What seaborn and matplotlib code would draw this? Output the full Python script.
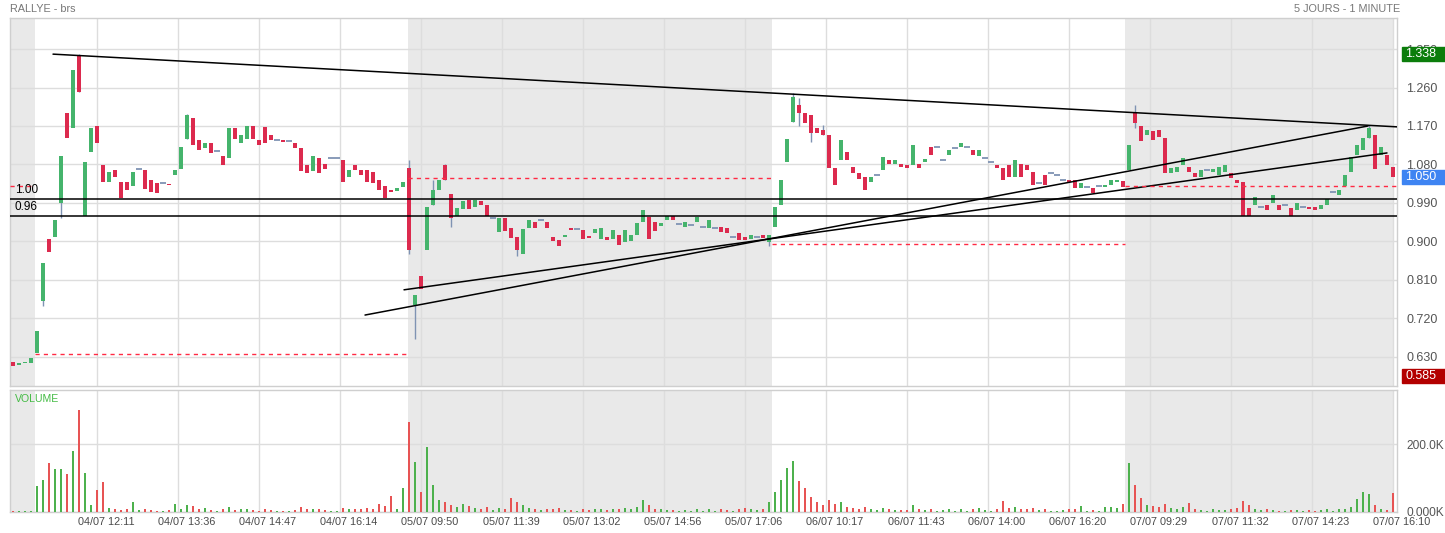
import numpy as np
import pandas as pd
import matplotlib
matplotlib.use("Agg")
import matplotlib.pyplot as plt
import matplotlib.transforms as mtransforms
from matplotlib.patches import Rectangle
import seaborn as sns

# one candle per slot, 5 sessions (pre-open, 04/07 .. 07/07)
opens = [
    0.618, 0.612, 0.615, 0.617, 0.640, 0.760, 0.905, 0.910, 0.990, 1.200,
    1.165, 1.336, 0.960, 1.110, 1.170, 1.079, 1.040, 1.067, 1.039, 1.039,
    1.030, 1.070, 1.067, 1.044, 1.037, 1.037, 1.035, 1.055, 1.070, 1.140,
    1.189, 1.137, 1.118, 1.130, 1.112, 1.100, 1.095, 1.165, 1.130, 1.140,
    1.170, 1.137, 1.168, 1.149, 1.137, 1.138, 1.135, 1.130, 1.118, 1.079,
    1.065, 1.095, 1.080, 1.095, 1.095, 1.090, 1.050, 1.079, 1.067, 1.067,
    1.062, 1.044, 1.030, 1.020, 1.018, 1.027, 1.072, 0.752, 0.820, 0.880,
    0.985, 1.020, 1.079, 1.010, 0.960, 0.975, 0.997, 0.980, 0.995, 0.985,
    0.955, 0.922, 0.955, 0.932, 0.911, 0.870, 0.932, 0.945, 0.950, 0.945,
    0.910, 0.903, 0.910, 0.932, 0.930, 0.927, 0.912, 0.920, 0.905, 0.910,
    0.906, 0.915, 0.898, 0.900, 0.915, 0.945, 0.957, 0.945, 0.937, 0.950,
    0.960, 0.942, 0.935, 0.939, 0.945, 0.934, 0.932, 0.932, 0.934, 0.932,
    0.911, 0.919, 0.911, 0.905, 0.910, 0.915, 0.899, 0.934, 0.985, 1.086,
    1.179, 1.220, 1.200, 1.196, 1.165, 1.160, 1.149, 1.072, 1.090, 1.110,
    1.074, 1.060, 1.050, 1.040, 1.055, 1.067, 1.090, 1.082, 1.080, 1.079,
    1.079, 1.080, 1.085, 1.120, 1.120, 1.090, 1.102, 1.118, 1.120, 1.120,
    1.114, 1.100, 1.095, 1.085, 1.079, 1.072, 1.079, 1.051, 1.080, 1.079,
    1.062, 1.037, 1.055, 1.060, 1.055, 1.044, 1.044, 1.044, 1.025, 1.027,
    1.025, 1.030, 1.028, 1.032, 1.039, 1.041, 1.067, 1.200, 1.170, 1.150,
    1.158, 1.160, 1.142, 1.060, 1.062, 1.079, 1.074, 1.060, 1.051, 1.067,
    1.062, 1.055, 1.062, 1.060, 1.044, 1.039, 0.978, 0.985, 0.980, 0.985,
    0.990, 0.985, 0.985, 0.978, 0.974, 0.980, 0.980, 0.980, 0.976, 0.985,
    1.015, 1.009, 1.030, 1.062, 1.102, 1.115, 1.142, 1.150, 1.102, 1.102,
    1.074,
]
closes = [
    0.608, 0.615, 0.617, 0.628, 0.690, 0.850, 0.875, 0.950, 1.100, 1.142,
    1.300, 1.250, 1.085, 1.165, 1.130, 1.040, 1.062, 1.051, 1.001, 1.020,
    1.062, 1.070, 1.022, 1.016, 1.013, 1.037, 1.031, 1.067, 1.120, 1.195,
    1.125, 1.114, 1.130, 1.107, 1.112, 1.079, 1.165, 1.140, 1.150, 1.170,
    1.140, 1.126, 1.130, 1.137, 1.137, 1.133, 1.135, 1.118, 1.065, 1.060,
    1.100, 1.060, 1.070, 1.095, 1.095, 1.039, 1.067, 1.067, 1.055, 1.040,
    1.037, 1.020, 1.001, 1.015, 1.025, 1.040, 0.880, 0.775, 0.790, 0.980,
    1.020, 1.044, 1.044, 0.955, 0.978, 0.995, 0.975, 0.997, 0.985, 0.960,
    0.955, 0.955, 0.925, 0.908, 0.880, 0.930, 0.950, 0.932, 0.950, 0.932,
    0.900, 0.890, 0.915, 0.927, 0.930, 0.905, 0.908, 0.930, 0.932, 0.903,
    0.927, 0.892, 0.927, 0.915, 0.943, 0.974, 0.905, 0.925, 0.943, 0.960,
    0.950, 0.942, 0.945, 0.939, 0.957, 0.934, 0.950, 0.932, 0.922, 0.920,
    0.911, 0.903, 0.903, 0.915, 0.910, 0.908, 0.915, 0.980, 1.044, 1.140,
    1.237, 1.200, 1.177, 1.153, 1.153, 1.150, 1.072, 1.032, 1.137, 1.090,
    1.060, 1.045, 1.020, 1.051, 1.055, 1.097, 1.080, 1.090, 1.075, 1.072,
    1.125, 1.072, 1.092, 1.102, 1.120, 1.090, 1.114, 1.118, 1.130, 1.120,
    1.102, 1.114, 1.095, 1.085, 1.072, 1.044, 1.051, 1.090, 1.051, 1.067,
    1.032, 1.037, 1.032, 1.060, 1.055, 1.044, 1.039, 1.025, 1.037, 1.027,
    1.013, 1.030, 1.032, 1.044, 1.044, 1.027, 1.125, 1.177, 1.135, 1.160,
    1.137, 1.145, 1.060, 1.072, 1.074, 1.095, 1.062, 1.051, 1.067, 1.067,
    1.070, 1.074, 1.079, 1.048, 1.037, 0.960, 0.960, 1.004, 0.980, 0.974,
    1.009, 0.974, 0.985, 0.960, 0.990, 0.980, 0.976, 0.974, 0.985, 1.000,
    1.015, 1.020, 1.055, 1.097, 1.125, 1.142, 1.165, 1.070, 1.120, 1.079,
    1.051,
]
# volume in thousands
volumes = [
    3, 2, 3, 4, 76, 94, 144, 126, 126, 111,
    179, 300, 115, 20, 65, 88, 12, 8, 6, 10,
    29, 5, 8, 6, 4, 3, 5, 24, 10, 20,
    18, 8, 12, 6, 4, 10, 16, 6, 8, 10,
    6, 4, 8, 6, 3, 4, 3, 6, 14, 8,
    10, 8, 6, 3, 3, 12, 10, 8, 10, 12,
    8, 24, 18, 47, 8, 70, 265, 147, 60, 191,
    79, 35, 28, 22, 15, 25, 18, 12, 10, 14,
    6, 12, 10, 40, 30, 20, 12, 8, 5, 10,
    8, 12, 6, 5, 4, 10, 6, 8, 10, 6,
    8, 10, 12, 8, 14, 35, 20, 10, 8, 6,
    5, 4, 6, 3, 8, 4, 10, 3, 8, 6,
    4, 10, 12, 8, 6, 10, 30, 60, 95, 130,
    150, 90, 70, 45, 30, 20, 35, 25, 30, 15,
    12, 10, 14, 8, 5, 12, 8, 6, 5, 6,
    20, 8, 6, 10, 4, 5, 8, 4, 10, 4,
    8, 12, 5, 4, 8, 32, 12, 14, 10, 8,
    12, 5, 8, 4, 4, 6, 8, 10, 18, 4,
    6, 4, 14, 16, 12, 23, 144, 79, 40, 20,
    18, 15, 25, 12, 10, 14, 26, 10, 6, 4,
    8, 6, 5, 10, 12, 32, 20, 10, 5, 8,
    6, 4, 3, 6, 5, 3, 6, 4, 5, 10,
    4, 8, 10, 14, 38, 59, 53, 20, 10, 6,
    56,
]
# (candle, low, high) for the visible shadows
wicks = [(5, 0.750, 0.850), (8, 0.955, 1.100), (11, 1.250, 1.338),
         (29, 1.140, 1.198), (66, 0.870, 1.090), (67, 0.672, 0.775),
         (70, 0.985, 1.044), (72, 1.044, 1.082), (73, 0.935, 1.010),
         (84, 0.866, 0.911), (126, 0.890, 0.915), (130, 1.179, 1.247),
         (131, 1.170, 1.235), (133, 1.132, 1.196), (135, 1.150, 1.172),
         (187, 1.165, 1.219), (226, 1.142, 1.172)]

time_labels = ["04/07 12:11", "04/07 13:36", "04/07 14:47", "04/07 16:14",
               "05/07 09:50", "05/07 11:39", "05/07 13:02", "05/07 14:56",
               "05/07 17:06", "06/07 10:17", "06/07 11:43", "06/07 14:00",
               "06/07 16:20", "07/07 09:29", "07/07 11:32", "07/07 14:23",
               "07/07 16:10"]
price_ticks = [0.630, 0.720, 0.810, 0.900, 0.990, 1.080, 1.170, 1.260, 1.350]

# drawn levels
support_levels = [1.00, 0.96]
prev_close_lines = [(-0.5, 3.67, 1.030), (3.67, 65.5, 0.637), (65.8, 126.5, 1.048),
                    (126.5, 185.3, 0.894), (185.3, 230.67, 1.030)]
trend_lines = [((6.67, 1.338), (230.67, 1.168)),
               ((58.67, 0.728), (225.83, 1.170)),
               ((65.17, 0.787), (229.0, 1.107))]
shaded = [(-0.5, 3.67), (65.8, 126.5), (185.3, 230.0)]
grid_x = [14 + 13.5 * k for k in range(17)]

GREEN = "#45b46c"
RED = "#dc2a4e"
GREY = "#7f93b3"

sns.set_style("white")
plt.rcParams["font.family"] = ["Liberation Sans", "DejaVu Sans"]

fig = plt.figure(figsize=(14.45, 5.33), dpi=100)
W, H = 1445, 533
ax = fig.add_axes([10 / W, (H - 386) / H, 1387 / W, 368 / H])
axv = fig.add_axes([10 / W, (H - 512) / H, 1387 / W, 122 / H])

idx = np.arange(len(closes))
o = np.array(opens)
c = np.array(closes)

for a in (ax, axv):
    for s0, s1 in shaded:
        a.axvspan(s0, s1, color="#e9e9e9", lw=0, zorder=0)
    for sp in a.spines.values():
        sp.set_color("#cfcfcf")
        sp.set_linewidth(1)

# ---- price panel ----
up = c > o
down = c < o
flat = c == o
lo = np.minimum(o, c)
h = np.maximum(np.abs(c - o), 0.003)
ax.bar(idx[up], h[up], bottom=lo[up], width=0.55, color=GREEN, lw=0, zorder=3)
ax.bar(idx[down], h[down], bottom=lo[down], width=0.55, color=RED, lw=0, zorder=3)
ax.hlines(c[flat], idx[flat] - 0.45, idx[flat] + 0.45, color=GREY, lw=1.3, zorder=3)
for i, wl, wh in wicks:
    ax.vlines(i, wl, wh, color=GREY, lw=1, zorder=2)

for (x0, y0), (x1, y1) in trend_lines:
    ax.plot([x0, x1], [y0, y1], color="black", lw=1.1, zorder=4)
for lv in support_levels:
    ax.axhline(lv, color="black", lw=1.1, zorder=4)
    ax.text(0.3, lv + 0.006, f"{lv:.2f}", fontsize=8.5, color="black", va="bottom", zorder=5)
for x0, x1, v in prev_close_lines:
    ax.hlines(v, x0, x1, colors="#ff2a44", linestyles=(0, (3, 3)), lw=1, zorder=4)

ax.set_xlim(-0.5, 230.67)
ax.set_ylim(0.5621, 1.4225)
ax.set_xticks(grid_x)
ax.set_xticklabels([])
ax.set_yticks(price_ticks)
ax.set_yticklabels([f"{v:.3f}" for v in price_ticks])
ax.yaxis.tick_right()
ax.tick_params(axis="both", length=0)
ax.tick_params(axis="y", pad=6.5, labelsize=9, labelcolor="#555555")
ax.grid(True, color="#dddddd", lw=1)
ax.set_axisbelow(True)

trans = mtransforms.blended_transform_factory(ax.transAxes, ax.transData)
bh = 14 * 0.002338
for val, col in [(1.338, "#0b7d0b"), (1.050, "#3e84f2"), (0.585, "#b30000")]:
    ax.add_patch(Rectangle((1 + 5 / 1387, val - bh / 2), 43 / 1387, bh, transform=trans,
                           color=col, clip_on=False, zorder=6))
    ax.text(1 + 8 / 1387, val, f"{val:.3f}", transform=trans, color="white",
            fontsize=9, va="center", ha="left", zorder=7, clip_on=False)

# ---- volume panel ----
vol_df = pd.DataFrame({"idx": idx, "vol": volumes,
                       "dir": np.where(c >= o, "up", "down")})
sns.barplot(data=vol_df, x="idx", y="vol", hue="dir",
            palette={"up": "#3cc23c", "down": "#ff3b3b"}, native_scale=True,
            dodge=False, width=0.3, errorbar=None, legend=False, linewidth=0,
            ax=axv, zorder=3)
axv.set_xlim(-0.5, 230.67)
axv.set_ylim(0, 359)
axv.set_xlabel("")
axv.set_ylabel("")
axv.set_xticks(grid_x)
axv.set_xticklabels([])
axv.set_yticks([0, 200])
axv.set_yticklabels(["0.000K", "200.0K"])
axv.yaxis.tick_right()
axv.tick_params(axis="both", length=0)
axv.tick_params(axis="y", pad=6.5, labelsize=8.6, labelcolor="#555555")
axv.grid(True, color="#dddddd", lw=1)
axv.set_axisbelow(True)
axv.text(5 / 1387, 0.926, "VOLUME", transform=axv.transAxes, color="#44bb44",
         fontsize=7.6, va="center", ha="left")

ltrans = mtransforms.blended_transform_factory(axv.transData, fig.transFigure)
for gx, lab in zip(grid_x, time_labels):
    axv.text(gx + 1.5, (H - 522) / H, lab, transform=ltrans, ha="center", va="center",
             fontsize=7.8, color="#4a4a4a", clip_on=False)

fig.text(10 / W, 1 - 9 / H, "RALLYE - brs", fontsize=7.8, color="#777777", va="center")
fig.text(1400 / W, 1 - 9 / H, "5 JOURS - 1 MINUTE", fontsize=7.8, color="#777777",
         va="center", ha="right")

fig.savefig("out.png", dpi=100)
